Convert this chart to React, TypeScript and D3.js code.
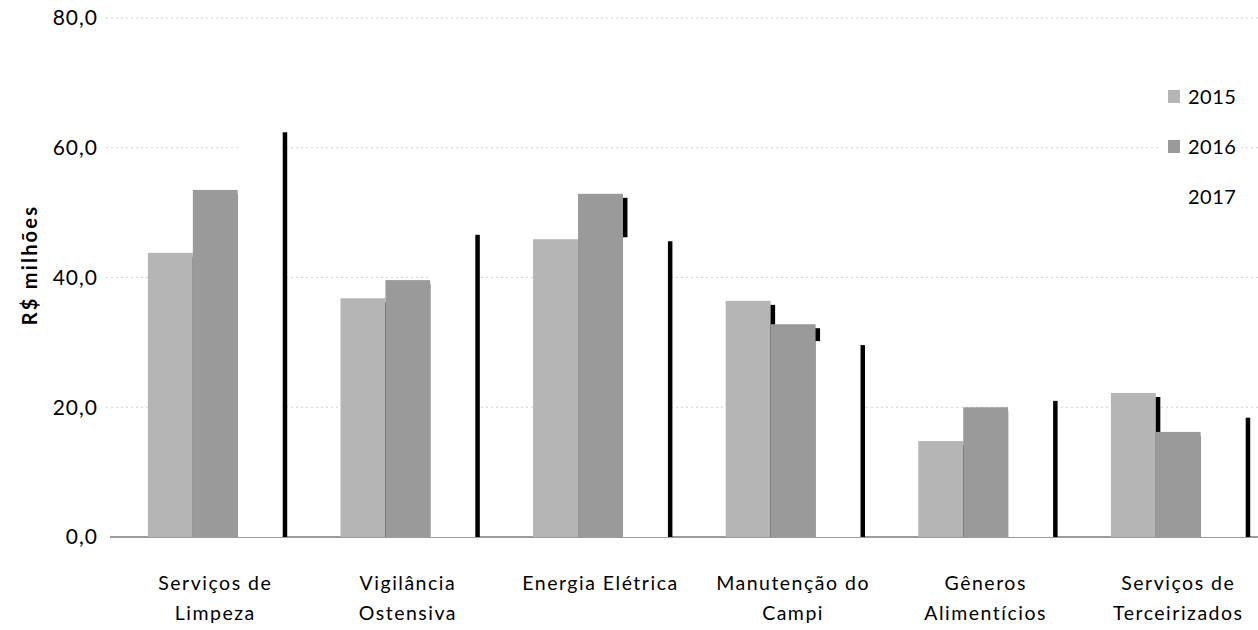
import React from "react";
import * as d3 from "d3";

const categories: string[][] = [
  ["Serviços de", "Limpeza"],
  ["Vigilância", "Ostensiva"],
  ["Energia Elétrica"],
  ["Manutenção do", "Campi"],
  ["Gêneros", "Alimentícios"],
  ["Serviços de", "Terceirizados"],
];
const seriesNames = ["2015", "2016", "2017"];
const values2015 = [43.8, 36.8, 45.9, 36.4, 14.8, 22.2];
const values2016 = [53.5, 39.6, 52.9, 32.8, 20.0, 16.2];
const values2017 = [63.0, 47.2, 46.2, 30.2, 21.6, 19.0];
const yTicks = [0, 20, 40, 60, 80];

const seriesValues = [values2015, values2016, values2017];
const seriesFill = ["#b5b5b5", "#9a9a9a", "#ffffff"];

const W = 1258;
const H = 630;
const FONT = "Lato, 'Open Sans', sans-serif";

export default function App() {
  const y = d3.scaleLinear().domain([0, 80]).range([537, 18]);
  const x0 = d3
    .scaleBand<number>()
    .domain(categories.map((_, i) => i))
    .range([119, 119 + 6 * 192.6])
    .paddingInner(0.3)
    .paddingOuter(0.15);
  const x1 = d3
    .scaleBand<number>()
    .domain([0, 1, 2])
    .range([0, x0.bandwidth()]);
  const fmt = (v: number) => d3.format(".1f")(v).replace(".", ",");
  const base = y(0);

  return (
    <svg width={W} height={H} style={{ position: "absolute", left: 0, top: 0, background: "#fff" }}>
      <defs>
        <clipPath id="aboveBase">
          <rect x={0} y={0} width={W} height={base} />
        </clipPath>
      </defs>
      {/* gridlines */}
      {yTicks.filter((t) => t > 0).map((t) => (
        <line
          key={t}
          x1={106}
          x2={W}
          y1={y(t)}
          y2={y(t)}
          stroke="#d2d2d2"
          strokeWidth={1}
          strokeDasharray="2,3"
        />
      ))}
      {/* baseline */}
      <line x1={110} x2={W} y1={base} y2={base} stroke="#7a7a7a" strokeWidth={1.5} />
      {/* tick labels */}
      {yTicks.map((t) => (
        <text
          key={t}
          x={98}
          y={y(t)}
          dy="0.35em"
          textAnchor="end"
          fontFamily={FONT}
          fontSize={21}
          letterSpacing={1}
          fill="#000"
        >
          {fmt(t)}
        </text>
      ))}
      {/* axis title */}
      <text
        transform={`translate(37,265) rotate(-90)`}
        textAnchor="middle"
        fontFamily={FONT}
        fontSize={20}
        fontWeight="bold"
        letterSpacing={2.2}
        fill="#000"
      >
        R$ milhões
      </text>
      {/* shadows */}
      <g clipPath="url(#aboveBase)">
        {categories.map((_, ci) =>
          seriesValues.map((vals, si) => {
            const bx = (x0(ci) as number) + (x1(si) as number);
            const top = y(vals[ci]);
            return (
              <rect
                key={`s${ci}-${si}`}
                x={bx + 4.5}
                y={top + 4}
                width={x1.bandwidth()}
                height={base - top}
                fill="#000"
              />
            );
          })
        )}
      </g>
      {/* bars */}
      {categories.map((_, ci) =>
        seriesValues.map((vals, si) => {
          const bx = (x0(ci) as number) + (x1(si) as number);
          const top = y(vals[ci]);
          return (
            <rect
              key={`b${ci}-${si}`}
              x={bx}
              y={top}
              width={x1.bandwidth()}
              height={base - top}
              fill={seriesFill[si]}
            />
          );
        })
      )}
      {/* category labels */}
      {categories.map((lines, ci) => {
        const cx = (x0(ci) as number) + x0.bandwidth() / 2;
        return (
          <text
            key={`c${ci}`}
            x={cx}
            y={590}
            textAnchor="middle"
            fontFamily={FONT}
            fontSize={19.5}
            letterSpacing={1.5}
            fill="#000"
          >
            {lines.map((l, li) => (
              <tspan key={li} x={cx} dy={li === 0 ? 0 : 30}>
                {l}
              </tspan>
            ))}
          </text>
        );
      })}
      {/* legend */}
      <rect x={1158} y={80} width={78} height={130} fill="#fff" />
      {seriesNames.map((name, si) => {
        const ly = 97 + si * 50;
        return (
          <g key={name}>
            <rect x={1168} y={ly - 7} width={12} height={13} fill={seriesFill[si]} />
            <text
              x={1188}
              y={ly}
              dy="0.35em"
              fontFamily={FONT}
              fontSize={20}
              letterSpacing={0.5}
              fill="#000"
            >
              {name}
            </text>
          </g>
        );
      })}
    </svg>
  );
}
